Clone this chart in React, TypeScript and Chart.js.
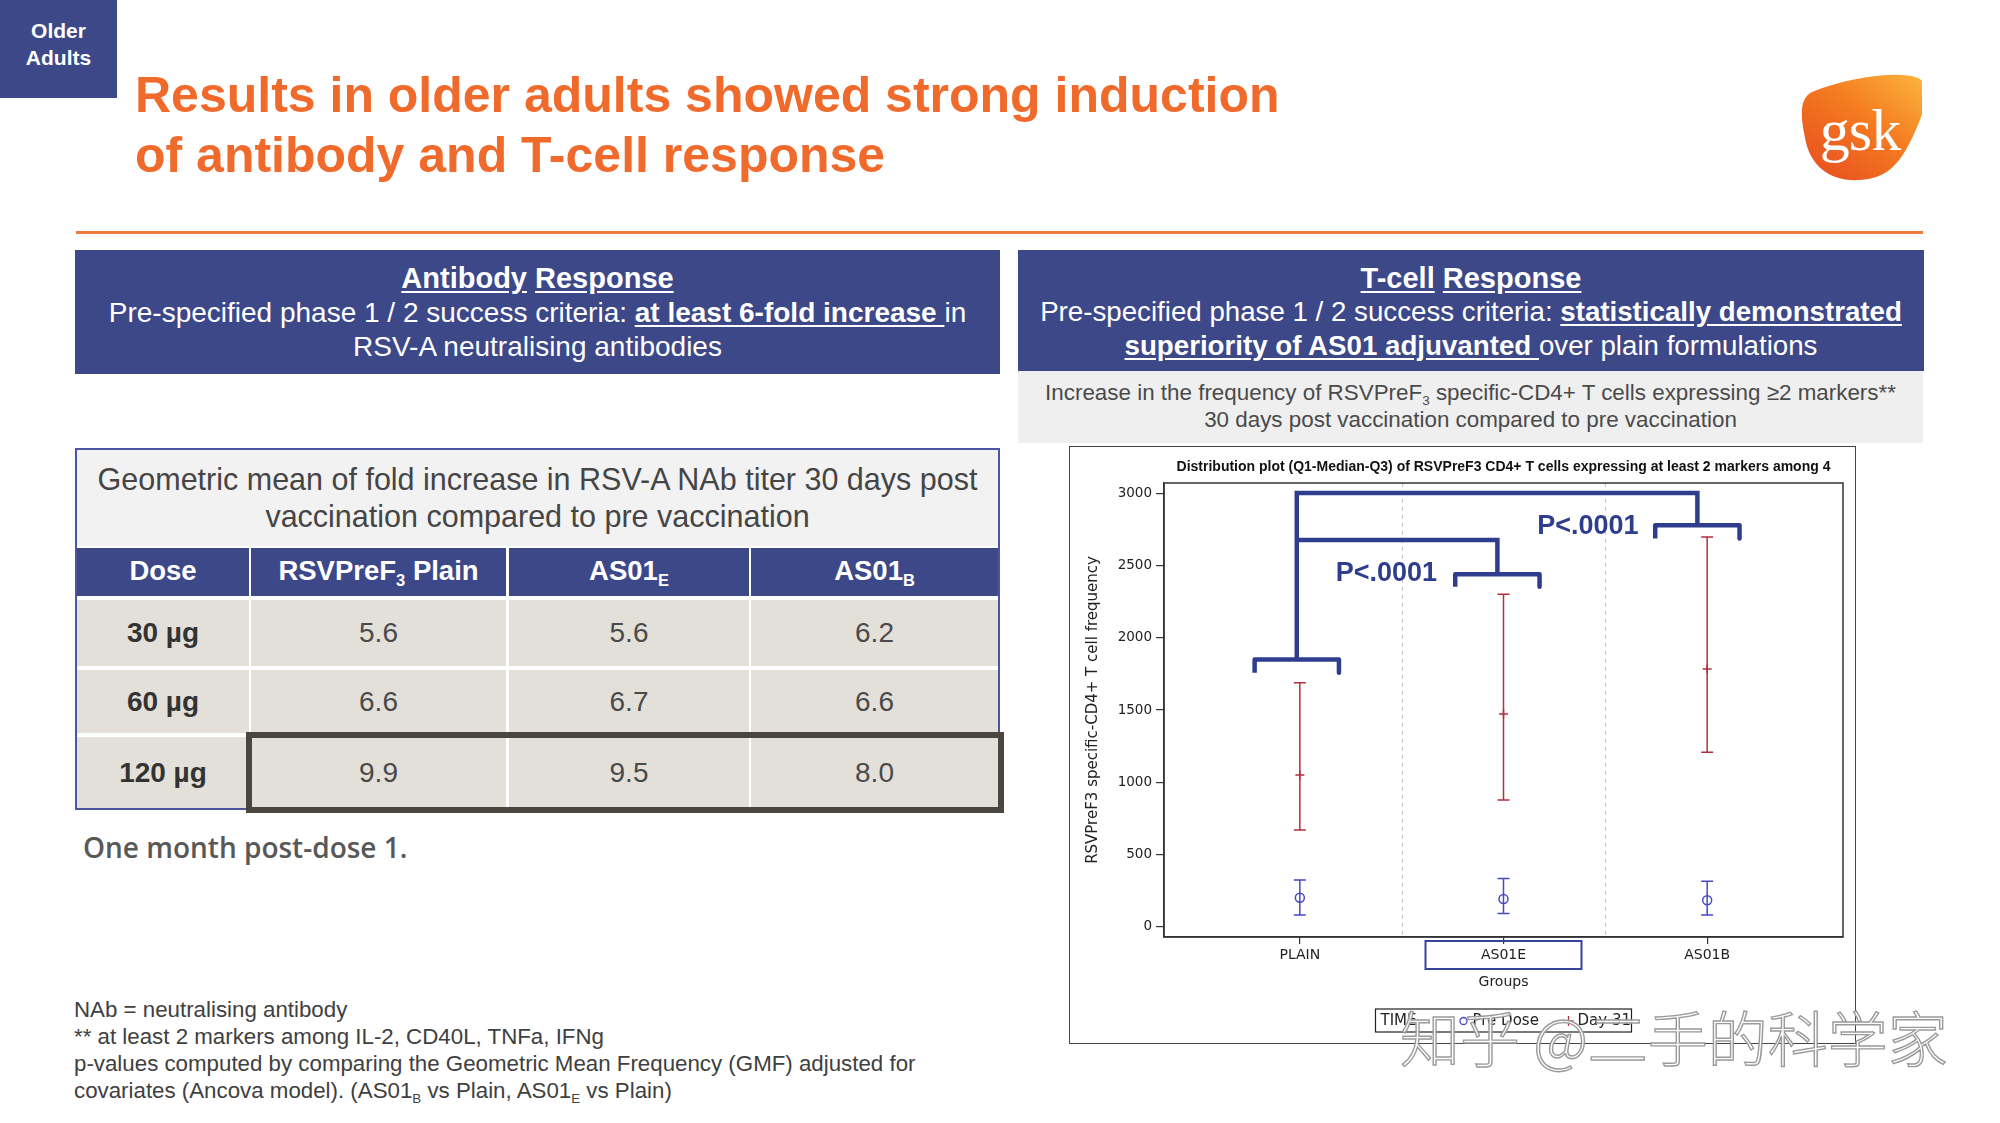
import React, { useEffect, useRef } from 'react';
import { Chart, registerables } from 'chart.js';

Chart.register(...registerables);

// ---------------- chart data ----------------
const groups = ['PLAIN', 'AS01E', 'AS01B'];
const groupPositions = [1, 2, 3];
const groupSeparators = [1.5, 2.5];
const yTickValues = [0, 500, 1000, 1500, 2000, 2500, 3000];

const preDoseQ1 = [83, 92, 83];
const preDoseMedian = [202, 193, 184];
const preDoseQ3 = [325, 334, 316];

const day31Q1 = [670, 878, 1207];
const day31Median = [1050, 1472, 1783];
const day31Q3 = [1688, 2301, 2697];

const bracketCenters = [0.985, 1.97, 2.952];
const bracketTops = [1850, 2439, 2778];
const bracketLegBottoms = [1757, 2352, 2686];
const bracketHalfWidths = [0.207, 0.207, 0.207];

const linkAS01BX = [0.985, 0.985, 2.952, 2.952];
const linkAS01BY = [1850, 3000, 3000, 2778];
const linkAS01EX = [0.985, 1.97, 1.97];
const linkAS01EY = [2675, 2675, 2439];

const pValueLabels = ['P<.0001', 'P<.0001'];
const pValueX = [1.425, 2.414];
const pValueY = [2443, 2771];

const seriesLabels = ['Pre Dose', 'Day 31'];
const legendTitle = 'TIME';
const chartTitle =
  'Distribution plot (Q1-Median-Q3) of RSVPreF3 CD4+ T cells expressing at least 2 markers among 4';
const yAxisTitle = 'RSVPreF3 specific-CD4+ T cell frequency';
const xAxisTitle = 'Groups';
const highlightedGroup = 'AS01E';

// ---------------- table data ----------------
const doseLabels = ['30 µg', '60 µg', '120 µg'];
const plainFold = [5.6, 6.6, 9.9];
const as01eFold = [5.6, 6.7, 9.5];
const as01bFold = [6.2, 6.6, 8.0];

// ---------------- styles ----------------
const NAVY = '#3d4889';
const ORANGE = '#f06a2c';
const BRACKET = '#2f3d8e';
const BLUE = '#4848c2';
const RED = '#b3303d';
const SANS = '"Liberation Sans", Arial, sans-serif';
const DJ = '"DejaVu Sans", sans-serif';

const Sub = ({ children }: { children: React.ReactNode }) => (
  <span style={{ fontSize: '0.6em', position: 'relative', top: '0.35em', lineHeight: 0 }}>{children}</span>
);

function PlotChart() {
  const ref = useRef<HTMLCanvasElement | null>(null);

  useEffect(() => {
    if (!ref.current) return;

    const bracketSets = bracketCenters.map((c, i) => ({
      type: 'line' as const,
      data: [
        { x: c - bracketHalfWidths[i], y: bracketLegBottoms[i] },
        { x: c - bracketHalfWidths[i], y: bracketTops[i] },
        { x: c + bracketHalfWidths[i], y: bracketTops[i] },
        { x: c + bracketHalfWidths[i], y: bracketLegBottoms[i] },
      ],
      showLine: true,
      borderColor: BRACKET,
      borderWidth: 4.5,
      borderJoinStyle: 'round' as const,
      pointRadius: 0,
      tension: 0,
      fill: false,
      clip: false as any,
    }));
    const linkSet = (xs: number[], ys: number[]) => ({
      type: 'line' as const,
      data: xs.map((x, i) => ({ x, y: ys[i] })),
      showLine: true,
      borderColor: BRACKET,
      borderWidth: 4.5,
      borderJoinStyle: 'miter' as const,
      pointRadius: 0,
      tension: 0,
      fill: false,
      clip: false as any,
    });

    const decor = {
      id: 'decor',
      beforeDatasetsDraw(chart: any) {
        const { ctx, chartArea, scales } = chart;
        const x = scales.x;
        const y = scales.y;
        ctx.save();
        // group separators
        ctx.strokeStyle = '#c4c4c4';
        ctx.lineWidth = 1;
        ctx.setLineDash([4, 4]);
        groupSeparators.forEach((s) => {
          const px = Math.round(x.getPixelForValue(s)) + 0.5;
          ctx.beginPath();
          ctx.moveTo(px, chartArea.top);
          ctx.lineTo(px, chartArea.bottom);
          ctx.stroke();
        });
        ctx.setLineDash([]);
        // error bars (Q1 - Q3)
        const bar = (q1: number[], q3: number[], color: string, cap: number) => {
          ctx.strokeStyle = color;
          ctx.lineWidth = 1.5;
          groupPositions.forEach((g, i) => {
            const px = x.getPixelForValue(g);
            const y1 = y.getPixelForValue(q1[i]);
            const y3 = y.getPixelForValue(q3[i]);
            ctx.beginPath();
            ctx.moveTo(px, y1);
            ctx.lineTo(px, y3);
            ctx.moveTo(px - cap, y1);
            ctx.lineTo(px + cap, y1);
            ctx.moveTo(px - cap, y3);
            ctx.lineTo(px + cap, y3);
            ctx.stroke();
          });
        };
        bar(day31Q1, day31Q3, RED, 6);
        bar(preDoseQ1, preDoseQ3, BLUE, 6);
        ctx.restore();
      },
      afterDraw(chart: any) {
        const { ctx, chartArea, scales } = chart;
        const x = scales.x;
        const y = scales.y;
        const cx = (chartArea.left + chartArea.right) / 2;
        ctx.save();
        // plot frame
        ctx.strokeStyle = '#333';
        ctx.lineWidth = 1.5;
        ctx.strokeRect(chartArea.left, chartArea.top, chartArea.right - chartArea.left, chartArea.bottom - chartArea.top);
        // chart title
        ctx.fillStyle = '#111';
        ctx.font = 'bold 14px ' + SANS;
        ctx.textAlign = 'center';
        ctx.textBaseline = 'middle';
        ctx.fillText(chartTitle, cx, 20);
        // p-values
        ctx.fillStyle = BRACKET;
        ctx.font = 'bold 27px ' + SANS;
        pValueLabels.forEach((t, i) => {
          ctx.fillText(t, x.getPixelForValue(pValueX[i]), y.getPixelForValue(pValueY[i]));
        });
        // highlighted tick label box
        const hi = groups.indexOf(highlightedGroup);
        const hx = x.getPixelForValue(groupPositions[hi]);
        ctx.strokeStyle = '#34449a';
        ctx.lineWidth = 2;
        ctx.strokeRect(hx - 78, chartArea.bottom + 4, 156, 28);
        // legend
        const w = 256;
        const h = 23;
        const left = cx - w / 2;
        const top = chartArea.bottom + 72;
        ctx.strokeStyle = '#222';
        ctx.lineWidth = 1.2;
        ctx.strokeRect(left, top, w, h);
        ctx.font = '15px ' + DJ;
        ctx.fillStyle = '#222';
        ctx.textAlign = 'left';
        const my = top + h / 2 + 0.5;
        const labels = chart.data.datasets.filter((d: any) => d.label).map((d: any) => d.label);
        ctx.fillText(legendTitle, left + 5, my);
        ctx.strokeStyle = BLUE;
        ctx.lineWidth = 1.3;
        ctx.beginPath();
        ctx.arc(left + 88, my, 3.5, 0, Math.PI * 2);
        ctx.stroke();
        ctx.fillText(labels[0], left + 97, my);
        ctx.strokeStyle = RED;
        ctx.beginPath();
        ctx.moveTo(left + 188, my);
        ctx.lineTo(left + 198, my);
        ctx.moveTo(left + 193, my - 5);
        ctx.lineTo(left + 193, my + 5);
        ctx.stroke();
        ctx.fillText(labels[1], left + 202, my);
        ctx.restore();
      },
    };

    const chart = new Chart(ref.current, {
      type: 'scatter',
      data: {
        datasets: [
          ...bracketSets,
          linkSet(linkAS01BX, linkAS01BY),
          linkSet(linkAS01EX, linkAS01EY),
          {
            label: seriesLabels[0],
            data: groupPositions.map((g, i) => ({ x: g, y: preDoseMedian[i] })),
            pointStyle: 'circle',
            pointRadius: 4.5,
            borderColor: BLUE,
            backgroundColor: 'rgba(0,0,0,0)',
            borderWidth: 1.5,
          },
          {
            label: seriesLabels[1],
            data: groupPositions.map((g, i) => ({ x: g, y: day31Median[i] })),
            pointStyle: 'cross',
            pointRadius: 4.5,
            borderColor: RED,
            backgroundColor: RED,
            borderWidth: 1.5,
          },
        ] as any,
      },
      options: {
        animation: false,
        responsive: false,
        maintainAspectRatio: false,
        events: [],
        layout: { padding: { top: 36, right: 12, bottom: 50, left: 0 } },
        plugins: {
          legend: { display: false },
          tooltip: { enabled: false },
          title: { display: false },
        },
        scales: {
          x: {
            type: 'linear',
            min: 0.333,
            max: 3.667,
            afterBuildTicks: (s: any) => {
              s.ticks = groupPositions.map((v) => ({ value: v }));
            },
            afterFit: (s: any) => {
              s.height = 56;
            },
            ticks: {
              callback: (_v: any, i: number) => groups[i],
              font: { family: DJ, size: 14 },
              color: '#222',
              padding: 3,
              maxRotation: 0,
              autoSkip: false,
            },
            grid: { drawOnChartArea: false, drawTicks: true, tickLength: 7, color: '#333', lineWidth: 1.2 },
            border: { display: true, color: '#333', width: 1.5 },
            title: {
              display: true,
              text: xAxisTitle,
              font: { family: DJ, size: 14 },
              color: '#222',
              padding: { top: 0, bottom: 2 },
            },
          },
          y: {
            type: 'linear',
            min: -70,
            max: 3070,
            afterBuildTicks: (s: any) => {
              s.ticks = yTickValues.map((v) => ({ value: v }));
            },
            afterFit: (s: any) => {
              s.width = 94;
            },
            ticks: {
              callback: (v: any) => String(v),
              font: { family: DJ, size: 13.5 },
              color: '#222',
              padding: 4,
            },
            grid: { drawOnChartArea: false, drawTicks: true, tickLength: 8, color: '#333', lineWidth: 1.2 },
            border: { display: true, color: '#333', width: 1.5 },
            title: {
              display: true,
              text: yAxisTitle,
              font: { family: DJ, size: 15 },
              color: '#222',
              padding: { top: 14, bottom: 0 },
            },
          },
        },
      } as any,
      plugins: [decor],
    });
    return () => chart.destroy();
  }, []);

  return <canvas ref={ref} width={785} height={596} style={{ display: 'block' }} />;
}

const abs = (left: number, top: number, width: number, height: number, extra: React.CSSProperties = {}): React.CSSProperties => ({
  position: 'absolute',
  left,
  top,
  width,
  height,
  boxSizing: 'border-box',
  ...extra,
});

export default function App() {
  const colX = [
    [77, 249],
    [251, 506],
    [509, 749],
    [751, 998],
  ];
  const rowY = [
    [600, 666],
    [670, 733],
    [737, 808],
  ];
  const columns = [plainFold, as01eFold, as01bFold];
  const headers: React.ReactNode[] = [
    'Dose',
    <span>RSVPreF<Sub>3</Sub> Plain</span>,
    <span>AS01<Sub>E</Sub></span>,
    <span>AS01<Sub>B</Sub></span>,
  ];
  const cellCenter = (key: string, l: number, t: number, w: number, h: number, bg: string, content: React.ReactNode, style: React.CSSProperties) => (
    <div
      key={key}
      style={abs(l, t, w, h, {
        background: bg,
        display: 'flex',
        alignItems: 'center',
        justifyContent: 'center',
        fontFamily: SANS,
        whiteSpace: 'nowrap',
        ...style,
      })}
    >
      {content}
    </div>
  );

  return (
    <div style={{ position: 'absolute', left: 0, top: 0, width: 2000, height: 1123, background: '#fff', overflow: 'hidden', fontFamily: SANS }}>
      {/* tag */}
      <div style={abs(0, 0, 117, 98, { background: NAVY, color: '#fff', fontWeight: 700, fontSize: 21, lineHeight: '27px', textAlign: 'center', paddingTop: 17 })}>
        Older
        <br />
        Adults
      </div>

      {/* title */}
      <div style={abs(135, 65, 1400, 130, { color: ORANGE, fontWeight: 700, fontSize: 50, lineHeight: '60px', whiteSpace: 'nowrap' })}>
        Results in older adults showed strong induction
        <br />
        of antibody and T-cell response
      </div>

      {/* logo */}
      <svg style={{ position: 'absolute', left: 1786, top: 64 }} width={136} height={120} viewBox="0 0 136 120">
        <defs>
          <linearGradient id="gskg" x1="0.1" y1="0.95" x2="0.95" y2="0.05">
            <stop offset="0" stopColor="#e8501f" />
            <stop offset="0.55" stopColor="#f47b20" />
            <stop offset="1" stopColor="#fbb03b" />
          </linearGradient>
        </defs>
        <path
          d="M 26 28 C 60 14, 112 6, 132 14 C 146 20, 140 44, 128 70 C 114 100, 102 114, 74 116 C 44 118, 24 102, 19 74 C 14 50, 14 34, 26 28 Z"
          fill="url(#gskg)"
        />
        <text x="74" y="86" textAnchor="middle" fill="#fff" fontSize="60" fontFamily='"Liberation Serif", serif' letterSpacing="-1">
          gsk
        </text>
      </svg>

      {/* orange rule */}
      <div style={abs(76, 231, 1847, 3, { background: '#f07b40' })} />

      {/* left header box */}
      <div style={abs(75, 250, 925, 124, { background: NAVY, color: '#fff', textAlign: 'center', fontSize: 28, lineHeight: '34.5px', paddingTop: 11, whiteSpace: 'nowrap' })}>
        <div style={{ fontWeight: 700, fontSize: 29, textUnderlineOffset: 3 }}>
          <u>Antibody</u> <u>Response</u>
        </div>
        <div>
          Pre-specified phase 1 / 2 success criteria:{' '}
          <b>
            <u style={{ textUnderlineOffset: 3 }}>at least 6-fold increase </u>
          </b>
          in
        </div>
        <div>RSV-A neutralising antibodies</div>
      </div>

      {/* right header box */}
      <div style={abs(1018, 250, 906, 121, { background: NAVY, color: '#fff', textAlign: 'center', fontSize: 27.7, lineHeight: '34px', paddingTop: 11, whiteSpace: 'nowrap' })}>
        <div style={{ fontWeight: 700, fontSize: 29, textUnderlineOffset: 3 }}>
          <u>T-cell</u> <u>Response</u>
        </div>
        <div>
          Pre-specified phase 1 / 2 success criteria:{' '}
          <b>
            <u style={{ textUnderlineOffset: 3 }}>statistically demonstrated</u>
          </b>
        </div>
        <div>
          <b>
            <u style={{ textUnderlineOffset: 3 }}>superiority of AS01 adjuvanted </u>
          </b>
          over plain formulations
        </div>
      </div>
      <div style={abs(1018, 371, 905, 72, { background: '#efefef', color: '#4a4a4a', textAlign: 'center', fontSize: 22.4, lineHeight: '27px', paddingTop: 8, whiteSpace: 'nowrap' })}>
        <div>
          Increase in the frequency of RSVPreF<Sub>3</Sub> specific-CD4+ T cells expressing ≥2 markers**
        </div>
        <div>30 days post vaccination compared to pre vaccination</div>
      </div>

      {/* table */}
      <div style={abs(75, 448, 925, 362, { border: '2px solid #4b55a0', background: '#fff' })} />
      <div style={abs(77, 450, 921, 96, { background: '#f2f2f2', color: '#454545', textAlign: 'center', fontSize: 30.5, lineHeight: '37px', paddingTop: 11, whiteSpace: 'nowrap' })}>
        <div>Geometric mean of fold increase in RSV-A NAb titer 30 days post</div>
        <div>vaccination compared to pre vaccination</div>
      </div>
      {headers.map((h, ci) =>
        cellCenter('h' + ci, colX[ci][0], 548, colX[ci][1] - colX[ci][0], 48, NAVY, h, { color: '#fff', fontWeight: 700, fontSize: 27.5, paddingBottom: 2 }),
      )}
      {doseLabels.map((d, ri) => (
        <React.Fragment key={d}>
          {cellCenter('d' + ri, colX[0][0], rowY[ri][0], colX[0][1] - colX[0][0], rowY[ri][1] - rowY[ri][0], '#e3e0d9', d, { color: '#333', fontWeight: 700, fontSize: 28 })}
          {columns.map((col, ci) =>
            cellCenter(
              'v' + ri + ci,
              colX[ci + 1][0],
              rowY[ri][0],
              colX[ci + 1][1] - colX[ci + 1][0],
              rowY[ri][1] - rowY[ri][0],
              '#e3e0d9',
              col[ri].toFixed(1),
              { color: '#4a4a4a', fontSize: 28 },
            ),
          )}
        </React.Fragment>
      ))}
      <div style={abs(246, 732, 758, 81, { border: '6px solid #4a453e' })} />

      <div style={abs(83, 829, 600, 36, { fontFamily: '"Open Sans", sans-serif', fontWeight: 600, fontSize: 28, color: '#585858', lineHeight: '36px', whiteSpace: 'nowrap' })}>
        One month post-dose 1.
      </div>

      {/* footnotes */}
      <div style={abs(74, 996, 1000, 120, { fontSize: 22.3, lineHeight: '27px', color: '#404040', whiteSpace: 'nowrap' })}>
        <div>NAb = neutralising antibody</div>
        <div>** at least 2 markers among IL-2, CD40L, TNFa, IFNg</div>
        <div>p-values computed by comparing the Geometric Mean Frequency (GMF) adjusted for</div>
        <div>
          covariates (Ancova model). (AS01<Sub>B</Sub> vs Plain, AS01<Sub>E</Sub> vs Plain)
        </div>
      </div>

      {/* chart */}
      <div style={abs(1069, 446, 787, 598, { border: '1px solid #444', background: '#fff' })}>
        <PlotChart />
      </div>

      {/* watermark */}
      <div
        style={abs(1400, 1002, 640, 70, {
          fontFamily: '"Noto Sans CJK SC", sans-serif',
          fontWeight: 300,
          fontSize: 60,
          lineHeight: '68px',
          color: 'rgba(255,255,255,0.85)',
          WebkitTextStroke: '1.4px #9a9a9a',
          whiteSpace: 'nowrap',
        } as React.CSSProperties)}
      >
        知乎 @二手的科学家
      </div>
    </div>
  );
}
